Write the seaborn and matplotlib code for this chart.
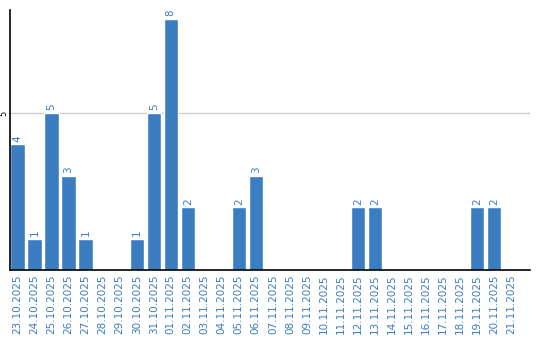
import matplotlib
matplotlib.use("Agg")
import matplotlib.pyplot as plt
import seaborn as sns
import pandas as pd

dates = ["23.10.2025", "24.10.2025", "25.10.2025", "26.10.2025", "27.10.2025",
         "28.10.2025", "29.10.2025", "30.10.2025", "31.10.2025", "01.11.2025",
         "02.11.2025", "03.11.2025", "04.11.2025", "05.11.2025", "06.11.2025",
         "07.11.2025", "08.11.2025", "09.11.2025", "10.11.2025", "11.11.2025",
         "12.11.2025", "13.11.2025", "14.11.2025", "15.11.2025", "16.11.2025",
         "17.11.2025", "18.11.2025", "19.11.2025", "20.11.2025", "21.11.2025"]
counts = [4, 1, 5, 3, 1, 0, 0, 1, 5, 8, 2, 0, 0, 2, 3,
          0, 0, 0, 0, 0, 2, 2, 0, 0, 0, 0, 0, 2, 2, 0]

BLUE = "#3a7dc1"
df = pd.DataFrame({"date": dates, "count": counts})

sns.set_style("white")
plt.rcParams["font.family"] = ["DejaVu Sans"]

fig = plt.figure(figsize=(5.4, 3.4), dpi=100)
ax = fig.add_axes([10/540, 70/340, 520/540, 260/340])

sns.barplot(data=df, x="date", y="count", color=BLUE, saturation=1,
            width=0.84, ax=ax, order=dates)

ax.set_xlim(-0.44, 30.1)
ax.set_ylim(0, 8.28)
ax.set_yticks([5])
ax.set_yticklabels(["5"], rotation=90, va="center", fontsize=6)
ax.tick_params(axis="y", length=0, pad=1.5, colors="black")
ax.tick_params(axis="x", length=0, pad=3)
ax.yaxis.grid(True, color="#cccccc", linewidth=1)
ax.set_axisbelow(True)
ax.set_xlabel("")
ax.set_ylabel("")
plt.setp(ax.get_xticklabels(), rotation=90, fontsize=7.5, color=BLUE)

for s in ["top", "right"]:
    ax.spines[s].set_visible(False)
for s in ["left", "bottom"]:
    ax.spines[s].set_color("black")
    ax.spines[s].set_linewidth(1.2)

for i, v in enumerate(counts):
    if v > 0:
        ax.text(i, v + 0.08, str(v), rotation=90, ha="center", va="bottom",
                fontsize=7.5, color=BLUE)

fig.savefig("out.png", dpi=100)
